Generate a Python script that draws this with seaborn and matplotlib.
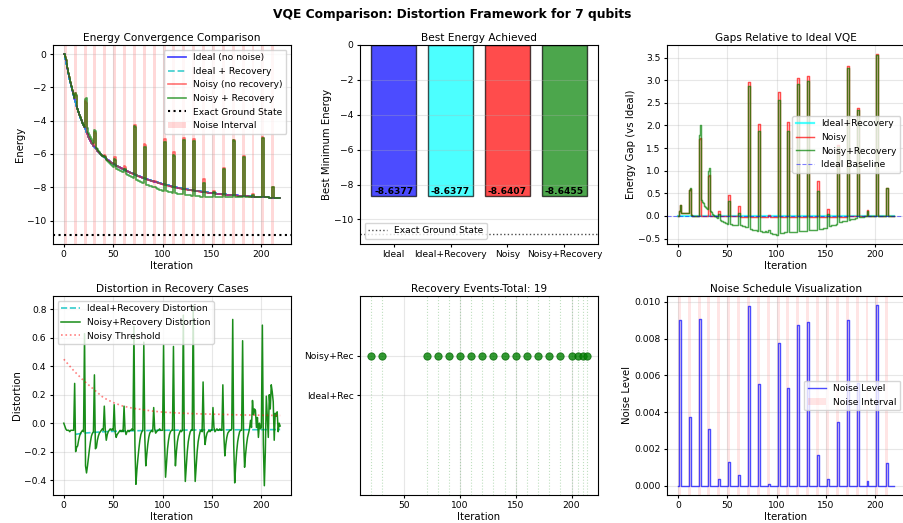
import numpy as np
import matplotlib
matplotlib.use("Agg")
import matplotlib.pyplot as plt
import seaborn as sns

# ---------------- data ----------------
iterations = np.arange(220)

energy_ideal = [
    0.00, -0.32, -0.63, -0.93, -1.21, -1.48, -1.74, -2.00, -2.25, -2.48,
    -2.70, -2.91, -3.11, -3.30, -3.48, -3.65, -3.82, -3.98, -4.13, -4.27,
    -4.40, -4.53, -4.66, -4.78, -4.90, -5.01, -5.12, -5.22, -5.32, -5.41,
    -5.50, -5.58, -5.66, -5.73, -5.80, -5.86, -5.93, -5.99, -6.05, -6.10,
    -6.15, -6.20, -6.25, -6.30, -6.34, -6.39, -6.43, -6.47, -6.52, -6.56,
    -6.60, -6.63, -6.67, -6.70, -6.73, -6.76, -6.79, -6.83, -6.86, -6.89,
    -6.92, -6.95, -6.98, -7.01, -7.03, -7.06, -7.09, -7.12, -7.15, -7.17,
    -7.20, -7.22, -7.25, -7.27, -7.30, -7.32, -7.34, -7.37, -7.39, -7.42,
    -7.44, -7.46, -7.48, -7.50, -7.52, -7.54, -7.56, -7.58, -7.60, -7.62,
    -7.64, -7.66, -7.68, -7.69, -7.71, -7.73, -7.75, -7.77, -7.78, -7.80,
    -7.82, -7.83, -7.85, -7.86, -7.88, -7.89, -7.90, -7.92, -7.93, -7.95,
    -7.96, -7.97, -7.98, -8.00, -8.01, -8.02, -8.03, -8.04, -8.06, -8.07,
    -8.08, -8.09, -8.10, -8.11, -8.12, -8.13, -8.14, -8.15, -8.16, -8.17,
    -8.18, -8.19, -8.20, -8.21, -8.22, -8.22, -8.23, -8.24, -8.25, -8.26,
    -8.27, -8.28, -8.29, -8.29, -8.30, -8.31, -8.32, -8.33, -8.33, -8.34,
    -8.35, -8.36, -8.36, -8.37, -8.38, -8.38, -8.39, -8.40, -8.41, -8.41,
    -8.42, -8.42, -8.43, -8.43, -8.44, -8.44, -8.45, -8.45, -8.46, -8.46,
    -8.47, -8.47, -8.48, -8.48, -8.49, -8.49, -8.50, -8.50, -8.51, -8.51,
    -8.52, -8.52, -8.53, -8.53, -8.53, -8.54, -8.54, -8.55, -8.55, -8.55,
    -8.56, -8.56, -8.56, -8.57, -8.57, -8.57, -8.58, -8.58, -8.58, -8.59,
    -8.59, -8.59, -8.60, -8.60, -8.60, -8.61, -8.61, -8.61, -8.62, -8.62,
    -8.62, -8.625, -8.627, -8.629, -8.631, -8.633, -8.634, -8.635, -8.636, -8.6377,
]
energy_ideal_rec = energy_ideal  # identical trace in the reference

gap_noisy = [
    0.00, 0.12, 0.25, 0.07, 0.07, 0.07, 0.07, 0.07, 0.07, 0.07,
    0.07, 0.57, 0.60, 0.02, 0.01, 0.01, 0.01, 0.00, 0.00, 0.00,
    0.00, 1.70, 1.72, 0.00, 0.00, 0.00, 0.00, 0.00, 0.00, 0.00,
    0.00, 0.88, 0.90, 0.00, 0.00, 0.00, 0.00, 0.00, 0.00, 0.00,
    0.00, 0.12, 0.12, -0.01, -0.01, -0.01, -0.01, -0.01, -0.01, -0.01,
    -0.01, 0.47, 0.47, -0.01, -0.01, -0.01, -0.01, -0.01, -0.01, -0.01,
    -0.01, 0.22, 0.22, -0.02, -0.02, -0.02, -0.02, -0.02, -0.02, -0.02,
    -0.02, 2.97, 2.97, -0.02, -0.02, -0.02, -0.02, -0.02, -0.02, -0.02,
    -0.02, 2.03, 2.03, -0.02, -0.02, -0.02, -0.02, -0.02, -0.02, -0.02,
    -0.02, 0.03, 0.03, -0.02, -0.02, -0.02, -0.02, -0.02, -0.02, -0.02,
    -0.02, 2.73, 2.73, -0.02, -0.02, -0.02, -0.02, -0.02, -0.02, -0.02,
    -0.02, 2.07, 2.07, -0.02, -0.02, -0.02, -0.02, -0.02, -0.02, -0.02,
    -0.02, 3.04, 3.04, -0.02, -0.02, -0.02, -0.02, -0.02, -0.02, -0.02,
    -0.02, 3.10, 3.10, -0.02, -0.02, -0.02, -0.02, -0.02, -0.02, -0.02,
    -0.02, 0.77, 0.77, -0.02, -0.02, -0.02, -0.02, -0.02, -0.02, -0.02,
    -0.02, 0.16, 0.16, -0.02, -0.02, -0.02, -0.02, -0.02, -0.02, -0.02,
    -0.02, 1.56, 1.56, -0.02, -0.02, -0.02, -0.02, -0.02, -0.02, -0.02,
    -0.02, 3.32, 3.32, -0.01, -0.01, -0.01, -0.01, -0.01, -0.01, -0.01,
    -0.01, 2.39, 2.39, -0.01, -0.01, -0.01, -0.01, -0.01, -0.01, -0.01,
    -0.01, 0.13, 0.13, 0.00, 0.00, 0.00, 0.00, 0.00, 0.00, 0.00,
    0.00, 3.58, 3.58, 0.00, 0.00, 0.00, 0.00, 0.00, 0.00, 0.00,
    0.00, 0.62, 0.62, 0.00, 0.00, 0.00, -0.003, -0.003, -0.003, -0.003,
]

gap_noisy_rec = [
    0.00, 0.12, 0.25, 0.07, 0.07, 0.07, 0.07, 0.07, 0.07, 0.07,
    0.07, 0.57, 0.62, 0.02, 0.01, 0.01, 0.01, 0.00, 0.00, 0.00,
    0.00, 1.80, 2.01, 0.35, 0.31, 0.28, 0.25, 0.22, 0.19, 0.17,
    0.15, 1.00, 1.05, 0.10, 0.08, 0.05, 0.03, 0.01, -0.01, -0.03,
    -0.04, 0.05, 0.05, -0.08, -0.10, -0.12, -0.13, -0.14, -0.15, -0.16,
    -0.17, 0.33, 0.33, -0.18, -0.18, -0.19, -0.19, -0.19, -0.19, -0.19,
    -0.19, 0.07, 0.07, -0.20, -0.21, -0.22, -0.22, -0.23, -0.24, -0.24,
    -0.25, 2.88, 2.88, -0.28, -0.29, -0.30, -0.30, -0.31, -0.32, -0.32,
    -0.33, 1.87, 1.87, -0.34, -0.34, -0.35, -0.35, -0.36, -0.33, -0.35,
    -0.36, -0.32, -0.32, -0.38, -0.38, -0.39, -0.39, -0.40, -0.40, -0.41,
    -0.41, 2.57, 2.57, -0.37, -0.37, -0.37, -0.37, -0.36, -0.36, -0.36,
    -0.36, 1.88, 1.88, -0.36, -0.36, -0.36, -0.35, -0.35, -0.35, -0.35,
    -0.35, 2.91, 2.91, -0.34, -0.34, -0.34, -0.34, -0.34, -0.33, -0.33,
    -0.33, 2.98, 2.98, -0.32, -0.32, -0.32, -0.31, -0.31, -0.31, -0.30,
    -0.30, 0.55, 0.55, -0.29, -0.29, -0.28, -0.28, -0.27, -0.27, -0.26,
    -0.26, 0.05, 0.05, -0.22, -0.22, -0.21, -0.20, -0.20, -0.19, -0.19,
    -0.18, 1.52, 1.52, -0.14, -0.13, -0.13, -0.12, -0.12, -0.11, -0.11,
    -0.10, 3.28, 3.28, -0.08, -0.07, -0.07, -0.06, -0.06, -0.06, -0.05,
    -0.05, 2.35, 2.35, -0.03, -0.03, -0.02, -0.02, -0.02, -0.01, -0.01,
    -0.01, 0.12, 0.12, 0.00, 0.00, 0.00, 0.00, 0.00, 0.00, 0.00,
    0.00, 3.56, 3.56, 0.00, 0.00, 0.00, 0.00, 0.00, 0.00, 0.00,
    0.00, 0.62, 0.62, -0.01, -0.01, -0.01, -0.008, -0.008, -0.008, -0.008,
]

exact_ground_state = -10.84

bar_labels = ["Ideal", "Ideal+Recovery", "Noisy", "Noisy+Recovery"]
best_energy = [-8.6377, -8.6377, -8.6407, -8.6455]
bar_colors = ["blue", "cyan", "red", "green"]

distortion_noisy_rec = [
    0.00, -0.02, -0.04, -0.05, -0.05, -0.05, -0.06, -0.05, -0.05, -0.05,
    -0.05, 0.28, -0.20, -0.17, -0.16, -0.12, -0.09, -0.07, -0.06, -0.05,
    -0.06, 0.63, -0.30, -0.35, -0.30, -0.24, -0.18, -0.13, -0.09, -0.07,
    -0.06, 0.34, -0.18, -0.17, -0.12, -0.09, -0.07, -0.06, -0.05, -0.04,
    -0.05, 0.12, -0.05, -0.12, -0.08, -0.06, -0.05, -0.04, -0.05, -0.04,
    -0.05, 0.13, -0.06, -0.10, -0.08, -0.07, -0.06, -0.05, -0.06, -0.05,
    -0.06, 0.12, -0.05, -0.08, -0.06, -0.05, -0.06, -0.05, -0.05, -0.04,
    -0.05, 0.68, -0.15, -0.43, -0.33, -0.25, -0.18, -0.12, -0.08, -0.06,
    -0.05, 0.57, -0.10, -0.30, -0.22, -0.15, -0.10, -0.07, -0.06, -0.05,
    -0.06, 0.11, -0.04, -0.07, -0.06, -0.05, -0.05, -0.04, -0.05, -0.05,
    -0.05, 0.55, -0.12, -0.38, -0.28, -0.18, -0.12, -0.08, -0.06, -0.05,
    -0.05, 0.54, -0.10, -0.30, -0.20, -0.13, -0.09, -0.07, -0.05, -0.06,
    -0.05, 0.76, -0.15, -0.41, -0.30, -0.20, -0.13, -0.09, -0.06, -0.05,
    -0.05, 0.83, -0.15, -0.41, -0.30, -0.20, -0.13, -0.09, -0.06, -0.05,
    -0.06, 0.29, -0.05, -0.15, -0.10, -0.07, -0.06, -0.05, -0.06, -0.05,
    -0.05, 0.11, -0.03, -0.06, -0.05, -0.04, -0.05, -0.05, -0.04, -0.05,
    -0.05, 0.27, -0.08, -0.23, -0.15, -0.10, -0.07, -0.06, -0.05, -0.05,
    -0.04, 0.73, -0.15, -0.42, -0.30, -0.20, -0.13, -0.09, -0.06, -0.05,
    -0.05, 0.58, -0.10, -0.31, -0.22, -0.15, -0.10, -0.07, -0.04, 0.02,
    -0.03, 0.16, 0.06, 0.10, 0.09, -0.03, 0.04, -0.10, 0.00, -0.04,
    -0.03, 0.69, -0.15, -0.44, -0.20, 0.19, 0.05, -0.10, 0.20, 0.10,
    0.27, 0.22, 0.15, -0.12, 0.07, 0.05, 0.08, -0.06, 0.00, -0.02,
]

ideal_rec_dist_iter = [12, 15, 20, 30, 40, 60, 80, 100, 130, 160, 190, 219]
ideal_rec_distortion = [-0.078, -0.075, -0.070, -0.065, -0.060, -0.055,
                        -0.052, -0.050, -0.048, -0.047, -0.046, -0.045]

threshold_iter = [0, 5, 10, 15, 20, 25, 30, 40, 50, 60, 70, 80, 90, 100,
                  120, 140, 160, 180, 200, 219]
noisy_threshold = [0.45, 0.41, 0.37, 0.335, 0.30, 0.27, 0.24, 0.18, 0.145,
                   0.12, 0.105, 0.095, 0.085, 0.078, 0.07, 0.065, 0.062,
                   0.058, 0.056, 0.054]

recovery_events = [20, 30, 70, 80, 90, 100, 110, 120, 130, 140, 150, 160,
                   170, 180, 190, 200, 206, 210, 214]
event_rows = ["Ideal+Rec", "Noisy+Rec"]

noise_starts = [0, 10, 20, 30, 40, 50, 60, 70, 80, 90, 100, 110, 120, 130,
                140, 150, 160, 170, 180, 190, 200, 210]
noise_peaks = [0.0090, 0.00373, 0.00906, 0.00311, 0.00036, 0.00130, 0.00059,
               0.00977, 0.00551, 0.00009, 0.00778, 0.00529, 0.00876, 0.00888,
               0.00165, 0.00036, 0.00346, 0.00902, 0.00560, 0.00027, 0.00982,
               0.00121]
noise_width = 3

# ---------------- derived series ----------------
e_ideal = np.array(energy_ideal)
e_ideal_rec = np.array(energy_ideal_rec)
e_noisy = e_ideal + np.array(gap_noisy)
e_noisy_rec = e_ideal + np.array(gap_noisy_rec)
noise_level = np.zeros(len(iterations))
for s, p in zip(noise_starts, noise_peaks):
    noise_level[s + 1:s + 3] = p

# ---------------- style ----------------
plt.rcParams.update({
    "font.family": ["DejaVu Sans"],
    "font.size": 7,
    "axes.titlesize": 7.6,
    "axes.labelsize": 7.3,
    "xtick.labelsize": 6.6,
    "ytick.labelsize": 6.6,
    "legend.fontsize": 6.6,
    "xtick.major.size": 2.5,
    "ytick.major.size": 2.5,
    "xtick.major.pad": 2.2,
    "ytick.major.pad": 2.2,
    "axes.linewidth": 0.8,
    "axes.titlepad": 3,
    "axes.labelpad": 1.5,
})

fig, axes = plt.subplots(2, 3, figsize=(9.04, 5.23), dpi=100)
fig.subplots_adjust(left=0.0586, right=1.0011, top=0.914, bottom=0.054,
                    wspace=0.29, hspace=0.265)

STEP = dict(drawstyle="steps-post", errorbar=None)

# ---- 1: energy convergence ----
ax = axes[0, 0]
sns.lineplot(x=iterations, y=e_ideal, ax=ax, color="blue", lw=1.3, alpha=0.7,
             label="Ideal (no noise)", **STEP)
sns.lineplot(x=iterations, y=e_ideal_rec, ax=ax, color="c", lw=1.3, alpha=0.7,
             linestyle="--", label="Ideal + Recovery", **STEP)
sns.lineplot(x=iterations, y=e_noisy, ax=ax, color="red", lw=1.2, alpha=0.55,
             label="Noisy (no recovery)", **STEP)
sns.lineplot(x=iterations, y=e_noisy_rec, ax=ax, color="green", lw=1.2, alpha=0.7,
             label="Noisy + Recovery", **STEP)
ax.axhline(exact_ground_state, color="k", ls=":", lw=1.5, label="Exact Ground State")
for i, s in enumerate(noise_starts):
    ax.axvspan(s, s + noise_width, color="red", alpha=0.15, lw=0,
               label="Noise Interval" if i == 0 else None)
ax.set_title("Energy Convergence Comparison")
ax.set_xlabel("Iteration")
ax.set_ylabel("Energy")
ax.grid(True, alpha=0.3)
ax.legend(loc="upper right")

# ---- 2: best energies ----
ax = axes[0, 1]
sns.barplot(x=bar_labels, y=best_energy, hue=bar_labels, palette=bar_colors,
            legend=False, saturation=1, alpha=0.7, edgecolor="black",
            linewidth=1, ax=ax)
ax.axhline(exact_ground_state, color="k", ls=":", lw=1, alpha=0.7,
           label="Exact Ground State")
for i, v in enumerate(best_energy):
    ax.text(i, v, f"{v:.4f}", ha="center", va="bottom", fontweight="bold",
            fontsize=6.6)
ax.set_xlim(-0.59, len(bar_labels) - 0.41)
ax.set_ylim(exact_ground_state * 1.05, 0)
ax.set_title("Best Energy Achieved")
ax.set_xlabel("")
ax.set_ylabel("Best Minimum Energy")
ax.grid(True, axis="y", alpha=0.3)
ax.legend(loc="lower left")

# ---- 3: gaps ----
ax = axes[0, 2]
sns.lineplot(x=iterations, y=e_ideal_rec - e_ideal, ax=ax, color="cyan", lw=1.6,
             alpha=0.7, label="Ideal+Recovery", **STEP)
sns.lineplot(x=iterations, y=e_noisy - e_ideal, ax=ax, color="red", lw=1.05,
             alpha=0.7, label="Noisy", **STEP)
sns.lineplot(x=iterations, y=e_noisy_rec - e_ideal, ax=ax, color="green", lw=1.05,
             alpha=0.7, label="Noisy+Recovery", **STEP)
ax.axhline(0, color="blue", ls="--", lw=0.8, alpha=0.5, label="Ideal Baseline")
ax.set_title("Gaps Relative to Ideal VQE")
ax.set_xlabel("Iteration")
ax.set_ylabel("Energy Gap (vs Ideal)")
ax.grid(True, alpha=0.3)
ax.legend(loc="center right")

# ---- 4: distortion ----
ax = axes[1, 0]
sns.lineplot(x=ideal_rec_dist_iter, y=ideal_rec_distortion, ax=ax, color="c",
             lw=1.2, alpha=0.8, linestyle="--", label="Ideal+Recovery Distortion",
             errorbar=None)
sns.lineplot(x=iterations, y=distortion_noisy_rec, ax=ax, color="green", lw=1.1,
             alpha=0.9, label="Noisy+Recovery Distortion", errorbar=None)
sns.lineplot(x=threshold_iter, y=noisy_threshold, ax=ax, color="red", lw=1.2,
             alpha=0.5, linestyle=":", label="Noisy Threshold", errorbar=None)
ax.set_title("Distortion in Recovery Cases")
ax.set_xlabel("Iteration")
ax.set_ylabel("Distortion")
ax.grid(True, alpha=0.3)
ax.legend(loc="upper left")

# ---- 5: recovery events ----
ax = axes[1, 1]
for t in recovery_events:
    ax.axvline(t, color="green", ls=":", lw=0.8, alpha=0.25)
sns.scatterplot(x=recovery_events, y=[1] * len(recovery_events), ax=ax,
                color="green", s=28, alpha=0.8, edgecolor="darkgreen",
                linewidth=0.6, zorder=3)
ax.set_yticks([0, 1])
ax.set_yticklabels(event_rows)
ax.set_ylim(-2.5, 2.5)
ax.set_title(f"Recovery Events-Total: {len(recovery_events)}")
ax.set_xlabel("Iteration")
ax.set_ylabel("")
ax.grid(True, alpha=0.3)

# ---- 6: noise schedule ----
ax = axes[1, 2]
sns.lineplot(x=iterations, y=noise_level, ax=ax, color="blue", lw=1.0,
             alpha=0.7, label="Noise Level", **STEP)
for i, s in enumerate(noise_starts):
    ax.axvspan(s, s + noise_width, color="red", alpha=0.1, lw=0,
               label="Noise Interval" if i == 0 else None)
ax.set_title("Noise Schedule Visualization")
ax.set_xlabel("Iteration")
ax.set_ylabel("Noise Level")
ax.grid(True, alpha=0.3)
ax.legend(loc="center right")

fig.suptitle("VQE Comparison: Distortion Framework for 7 qubits",
             fontsize=8.8, fontweight="bold", y=0.985)

fig.savefig("out.png", dpi=100)
